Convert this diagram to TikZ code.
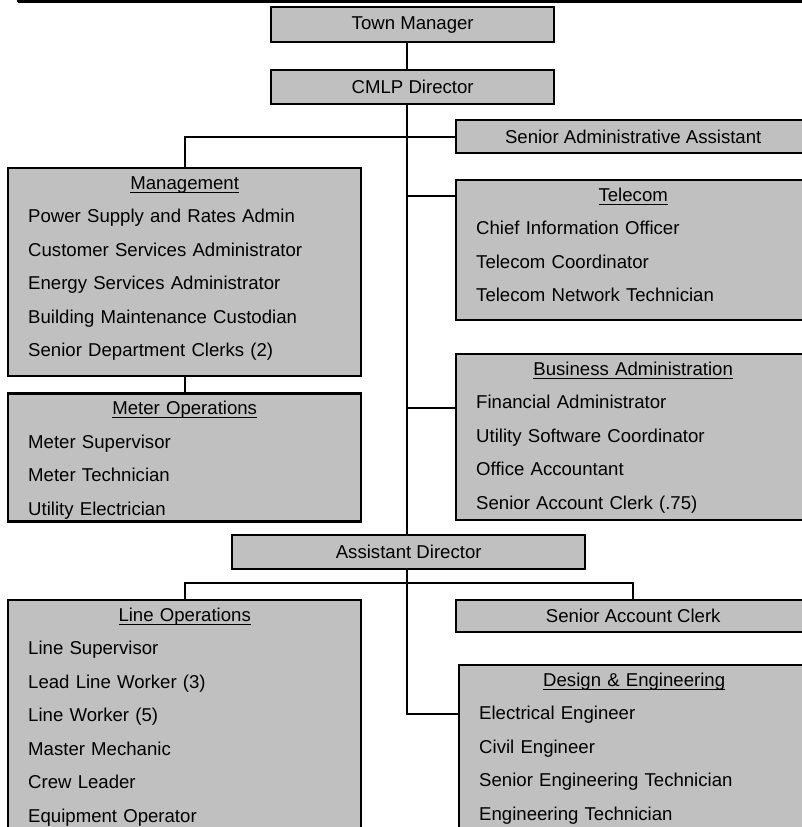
\documentclass[tikz,border=0pt]{standalone}
\usepackage{fontspec}
\setmainfont{Liberation Sans}
\usetikzlibrary{positioning}

\definecolor{boxgray}{RGB}{192,192,192}

\tikzset{
  post/.style={draw, fill=boxgray, line width=1.2pt, inner sep=0pt,
    anchor=north west, font=\fontsize{9.3}{11}\selectfont},
  unit/.style={draw, fill=boxgray, line width=1.2pt, anchor=north west,
    inner xsep=10pt, inner ysep=0pt, text height=10.5pt, align=left,
    font=\fontsize{9.3}{16.75}\selectfont},
  link/.style={line width=1.2pt}
}
\newcommand{\unithead}[1]{\makebox[\linewidth]{\underline{\smash{#1}}}}

\begin{document}
\begin{tikzpicture}[x=0.5pt,y=-0.5pt]
   \useasboundingbox (0,0) rectangle (802,827);
   \clip (0,0) rectangle (802,827);

   % rule of the table above
   \draw[link] (18,1.5) -- (810,1.5);
   \foreach \x in {18,193,348,505,662}
      \draw[link] (\x,-4) -- (\x,1.5);

   \node[post, minimum width=141.5pt, minimum height=17.5pt] (tm) at (270,6) {Town Manager};
   \node[post, minimum width=141.5pt, minimum height=17pt] (cmlp) [below=31.5pt of tm.north west, anchor=north west] {CMLP Director};
   \node[post, minimum width=177pt, minimum height=16.5pt] (saa) at (455,119) {Senior Administrative Assistant};

   \node[unit, text width=156.5pt, text depth=93.5pt] (mgmt) at (7,167) {\unithead{Management}\\
      Power Supply and Rates Admin\\
      Customer Services Administrator\\
      Energy Services Administrator\\
      Building Maintenance Custodian\\
      Senior Department Clerks (2)};
   \node[unit, text width=156.5pt, text depth=53.5pt] (meter) [below=7.5pt of mgmt.south west, anchor=north west] {\unithead{Meter Operations}\\
      Meter Supervisor\\
      Meter Technician\\
      Utility Electrician};

   \node[unit, text width=157pt, text depth=59.5pt] (tele) at (455,179) {\unithead{Telecom}\\
      Chief Information Officer\\
      Telecom Coordinator\\
      Telecom Network Technician};
   \node[unit, text width=157pt, text depth=72.5pt] (biz) at (455,353) {\unithead{Business Administration}\\
      Financial Administrator\\
      Utility Software Coordinator\\
      Office Accountant\\
      Senior Account Clerk (.75)};

   \node[post, minimum width=176.5pt, minimum height=17pt] (ad) at (231,534) {Assistant Director};
   \node[post, minimum width=177pt, minimum height=16pt] (sac) at (455,599) {Senior Account Clerk};

   \node[unit, text width=156.5pt, text depth=115pt] (line) at (7,599) {\unithead{Line Operations}\\
      Line Supervisor\\
      Lead Line Worker (3)\\
      Line Worker (5)\\
      Master Mechanic\\
      Crew Leader\\
      Equipment Operator};
   \node[unit, text width=155pt, text depth=85pt] (design) at (458,664) {\unithead{Design \& Engineering}\\
      Electrical Engineer\\
      Civil Engineer\\
      Senior Engineering Technician\\
      Engineering Technician};

   % connectors
   \coordinate (spine) at (407,0);
   \coordinate (tele-in) at ([yshift=-8.5pt]tele.north west);
   \coordinate (biz-in) at ([yshift=-27.5pt]biz.north west);
   \coordinate (design-in) at ([yshift=-25pt]design.north west);
   \coordinate (bus) at ([yshift=8pt]line.north);

   \draw[link] (tm.south -| spine) -- (cmlp.north -| spine);
   \draw[link] (cmlp.south -| spine) -- (ad.north -| spine);
   \draw[link] (ad.south -| spine) |- (design-in);
   \draw[link] (saa.west) -| (mgmt.north);
   \draw[link] (mgmt.south) -- (meter.north);
   \draw[link] (tele-in) -- (tele-in -| spine);
   \draw[link] (biz-in) -- (biz-in -| spine);
   \draw[link] (line.north) -- (bus) -| (sac.north);
\end{tikzpicture}
\end{document}
